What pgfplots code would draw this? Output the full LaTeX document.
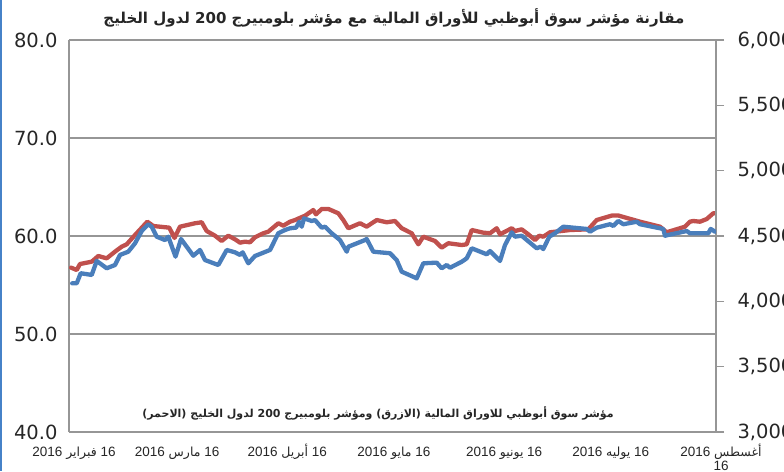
\documentclass[border=0pt]{standalone}
\usepackage{fontspec}
\setmainfont{Liberation Sans}
\newfontfamily\arabicfont[Script=Arabic]{DejaVu Sans}
\newfontfamily\dejavu{DejaVu Sans}
\TeXXeTstate=1
\usepackage{pgfplots}
\usepackage{pgfplotstable}
\pgfplotsset{compat=1.18}
\definecolor{redline}{RGB}{192,80,77}
\definecolor{blueline}{RGB}{74,126,187}
\definecolor{gridgray}{RGB}{150,150,150}
\definecolor{edgeblue}{RGB}{70,130,200}

\pgfplotstableread{
day val
0.60 56.77
2.17 56.53
3.09 57.14
6.39 57.38
8.24 57.96
10.60 57.72
12.94 58.40
14.82 58.91
16.23 59.15
18.57 60.10
22.03 61.46
23.71 61.02
28.21 60.85
29.68 59.80
31.22 60.95
35.44 61.30
37.33 61.40
38.73 60.51
41.07 60.03
42.95 59.49
44.81 60.03
46.70 59.66
48.10 59.32
49.51 59.42
50.92 59.36
52.32 59.87
54.66 60.28
56.06 60.44
58.88 61.30
60.28 61.05
62.17 61.46
63.57 61.63
66.39 62.07
68.72 62.65
69.48 62.21
71.08 62.76
72.94 62.76
75.75 62.32
77.16 61.63
78.57 60.79
81.86 61.30
83.74 60.95
86.56 61.63
89.37 61.40
91.70 61.53
93.59 60.79
96.40 60.28
98.26 59.15
99.67 59.93
102.96 59.49
104.84 58.81
106.70 59.26
110.47 59.08
111.87 59.15
113.28 60.61
116.54 60.34
118.43 60.28
120.31 60.79
121.24 60.17
124.53 60.79
125.46 60.51
127.34 60.68
129.20 60.17
131.09 59.59
132.30 60.03
133.42 59.93
135.31 60.38
138.60 60.51
140.93 60.61
146.08 60.68
148.44 61.63
152.75 62.09
154.52 62.09
160.62 61.46
166.25 60.95
168.13 60.38
173.28 60.95
174.68 61.46
175.61 61.53
177.49 61.46
179.38 61.73
181.24 62.32
181.72 62.32
}\gccdata

\pgfplotstableread{
day val
0.90 4138
2.17 4138
3.29 4215
6.39 4202
7.79 4309
10.60 4253
12.94 4278
14.35 4355
16.68 4380
18.57 4444
20.45 4538
22.31 4590
23.26 4571
24.67 4495
27.00 4469
27.93 4495
29.96 4342
31.51 4477
34.97 4349
36.85 4393
38.26 4316
42.00 4278
44.36 4393
46.70 4375
48.10 4355
48.86 4375
50.44 4291
52.32 4347
56.54 4393
58.88 4521
60.76 4546
62.17 4559
63.86 4564
64.78 4609
65.46 4571
66.11 4635
68.27 4615
69.20 4622
71.08 4564
72.01 4571
73.90 4521
76.23 4469
78.12 4380
78.57 4418
83.26 4469
83.74 4477
85.60 4380
87.48 4375
90.30 4368
92.18 4316
93.59 4227
97.81 4176
99.67 4291
103.43 4296
104.84 4253
106.25 4278
107.17 4257
110.47 4303
111.87 4329
113.28 4406
117.50 4360
118.43 4385
121.24 4309
122.65 4431
124.53 4528
125.46 4495
127.34 4502
131.56 4406
132.69 4418
133.42 4400
135.11 4495
136.71 4521
139.05 4571
145.63 4554
146.56 4533
148.44 4564
152.19 4590
153.11 4577
154.52 4615
155.93 4590
159.70 4609
160.62 4590
166.25 4559
167.17 4554
167.65 4502
168.58 4508
173.76 4538
174.68 4521
179.83 4521
180.51 4554
181.72 4533
}\adxdata

\newcommand{\ar}[1]{{\arabicfont\fontsize{12.5}{14}\selectfont #1}}

\begin{document}
\begin{tikzpicture}
\begin{axis}[
  at={(0,0)}, anchor=south west,
  scale only axis, width=647pt, height=392pt,
  xmin=0, xmax=182, ymin=40, ymax=80,
  ytick={40,50,60,70,80},
  axis y line*=left, axis x line*=bottom,
  axis line style={gridgray, line width=1.3pt, -},
  ymajorgrids, grid style={gridgray, line width=1.3pt},
  major tick length=0pt,
  xtick={0,29,60,90,121,151,182},
  xticklabels={
    {\rule[-4pt]{0pt}{22pt}2016 \ar{فبراير} 16},
    {\rule[-4pt]{0pt}{22pt}2016 \ar{مارس} 16},
    {\rule[-4pt]{0pt}{22pt}2016 \ar{أبريل} 16},
    {\rule[-4pt]{0pt}{22pt}2016 \ar{مايو} 16},
    {\rule[-4pt]{0pt}{22pt}2016 \ar{يونيو} 16},
    {\rule[-4pt]{0pt}{22pt}2016 \ar{يوليه} 16},
    {\rule[-4pt]{0pt}{22pt}2016 \ar{أغسطس}\\16}},
  xticklabel style={font=\fontsize{13.5}{12}\selectfont, align=center, text=black!85, xshift=5pt, anchor=north},
  xticklabel shift=3pt,
  yticklabel style={font=\dejavu\fontsize{19.5}{20}\selectfont, text=black!85,
     /pgf/number format/.cd, fixed, fixed zerofill, precision=1, assume math mode=true},
  yticklabel shift=8pt,
]
\addplot[redline, line width=4.3pt, line join=round, line cap=round] table[x=day,y=val] {\gccdata};
\end{axis}
\begin{axis}[
  at={(0,0)}, anchor=south west,
  scale only axis, width=647pt, height=392pt,
  xmin=0, xmax=182, ymin=3000, ymax=6000,
  ytick={3000,3500,...,6000},
  axis y line*=right, axis x line=none,
  axis line style={gridgray, line width=1.3pt, -},
  tick style={gridgray, line width=1.3pt},
  tick align=outside, major tick length=8pt,
  scaled y ticks=false,
  yticklabel style={font=\dejavu\fontsize{19.5}{20}\selectfont, text=black!85,
     /pgf/number format/.cd, 1000 sep={,}, assume math mode=true},
  yticklabel shift=10pt,
]
\addplot[blueline, line width=4.3pt, line join=round, line cap=round] table[x=day,y=val] {\adxdata};
\end{axis}
\node[font=\arabicfont\bfseries\fontsize{15}{17}\selectfont, text=black!85] at (325pt,414pt)
  {\beginR مقارنة مؤشر سوق أبوظبي للأوراق المالية مع مؤشر بلومبيرج 200 لدول الخليج\endR};
\node[font=\arabicfont\bfseries\fontsize{11}{12}\selectfont, text=black!85] at (309pt,19pt)
  {\beginR مؤشر سوق أبوظبي للاوراق المالية (الازرق) ومؤشر بلومبيرج 200 لدول الخليج (الاحمر)\endR};
\fill[edgeblue] (-69pt,-39pt) rectangle (-66.5pt,432pt);
\pgfresetboundingbox
\path[use as bounding box] (-69pt,-39pt) rectangle (715pt,432pt);
\end{tikzpicture}
\end{document}
